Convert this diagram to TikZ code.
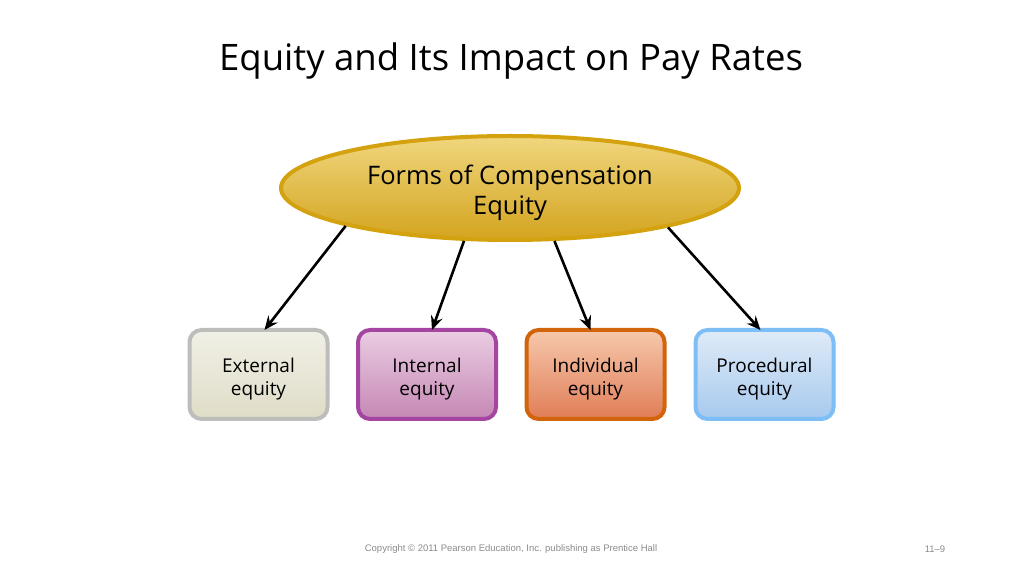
\documentclass[tikz,border=0pt]{standalone}
\usepackage{fontspec}
\setmainfont{Open Sans}
\newfontfamily\footfont{Liberation Sans}
\usetikzlibrary{shapes.geometric,arrows.meta,calc}
\definecolor{goldbd}{HTML}{D4A20E}
\definecolor{goldtop}{HTML}{F0D67E}
\definecolor{goldbot}{HTML}{D3A41E}
\definecolor{extbd}{HTML}{BDBDBB}
\definecolor{exttop}{HTML}{F1F0E6}
\definecolor{extbot}{HTML}{DFDCC7}
\definecolor{intbd}{HTML}{A545A2}
\definecolor{inttop}{HTML}{EACDE3}
\definecolor{intbot}{HTML}{C587B4}
\definecolor{indbd}{HTML}{D2650C}
\definecolor{indtop}{HTML}{F6C8AC}
\definecolor{indbot}{HTML}{E07D57}
\definecolor{probd}{HTML}{7CBEF5}
\definecolor{protop}{HTML}{DFEBF8}
\definecolor{probot}{HTML}{A7C9EE}
\tikzset{
  x=1pt,y=1pt,
  catbox/.style={draw, line width=4pt, rounded corners=12pt, minimum width=138pt,
    minimum height=89pt, inner sep=0pt},
  cattext/.style={align=center, font=\fontsize{19}{23}\selectfont, inner sep=0pt},
  linkarrow/.style={-{Stealth[length=14pt,width=12pt,inset=5pt]}, line width=2.6pt, black},
  foottext/.style={text=black!45, font=\footfont\fontsize{9.5}{11}\selectfont},
}
\begin{document}
\begin{tikzpicture}
\useasboundingbox (0,0) rectangle (1024,575);
\fill[white] (0,0) rectangle (1024,575);
\node (title) at (511,514) {\fontsize{36.5}{42}\selectfont Equity and Its Impact on Pay Rates};
\node[ellipse, draw=goldbd, line width=4pt, top color=goldtop, bottom color=goldbot,
  minimum width=458pt, minimum height=104pt, inner sep=0pt] (root) at (510,387) {};
\node[align=center, font=\fontsize{25.5}{31}\selectfont] (roottext) at (510,382) {Forms of Compensation\\[-1pt]Equity};
\node[catbox, draw=extbd, top color=exttop, bottom color=extbot] (ext) at (258.5,200.5) {};
\node[catbox, draw=intbd, top color=inttop, bottom color=intbot] (int) at (427,200.5) {};
\node[catbox, draw=indbd, top color=indtop, bottom color=indbot] (ind) at (595.5,200.5) {};
\node[catbox, draw=probd, top color=protop, bottom color=probot] (pro) at (764.5,200.5) {};
\node[cattext] (extt) at ([yshift=-5pt]ext.center) {External\\equity};
\node[cattext] (intt) at ([yshift=-5pt]int.center) {Internal\\equity};
\node[cattext] (indt) at ([yshift=-5pt]ind.center) {Individual\\equity};
\node[cattext] (prot) at ([yshift=-5pt]pro.center) {Procedural\\equity};
\draw[linkarrow] (root.193.5) -- ([xshift=6pt,yshift=-2pt]ext.north);
\draw[linkarrow] (root.229.7) -- ([xshift=5pt,yshift=-2pt]int.north);
\draw[linkarrow] (root.310.3) -- ([xshift=-5pt,yshift=-2pt]ind.north);
\draw[linkarrow] (root.346.5) -- ([xshift=-4pt,yshift=-2pt]pro.north);
\node[foottext] (copy) at (511,26) {Copyright © 2011 Pearson Education, Inc. publishing as Prentice Hall};
\node[foottext] (page) at (935,26) {11–9};
\end{tikzpicture}
\end{document}
